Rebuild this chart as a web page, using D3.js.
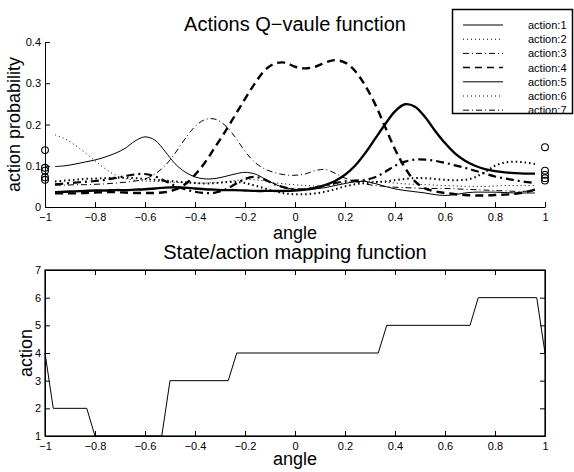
<!DOCTYPE html>
<html>
<head>
<meta charset="utf-8">
<script src="https://cdn.jsdelivr.net/npm/d3@7"></script>
<style>
  body { margin: 0; background: #fff; }
  svg { display: block; font-family: "Liberation Sans", Arial, Helvetica, sans-serif; }
</style>
</head>
<body>
<div id="chart"></div>
<script>
// sampled angles for the Q-value curves
const angles = [-0.96,-0.92,-0.88,-0.84,-0.80,-0.76,-0.72,-0.68,-0.64,-0.60,-0.56,-0.52,-0.48,-0.44,-0.40,-0.36,-0.32,-0.28,-0.24,-0.20,-0.16,-0.12,-0.08,-0.04,0,
  0.04,0.08,0.12,0.16,0.20,0.24,0.28,0.32,0.36,0.40,0.44,0.48,0.52,0.56,0.60,0.64,0.68,0.72,0.76,0.80,0.84,0.88,0.92,0.96];

const action1 = [.098,.100,.104,.109,.114,.121,.130,.142,.160,.170,.162,.135,.105,.085,.073,.068,.069,.074,.080,.084,.080,.068,.055,.047,.043,
  .042,.044,.047,.052,.057,.061,.062,.057,.050,.044,.040,.037,.034,.030,.028,.030,.034,.036,.036,.036,.035,.034,.034,.034];
const action2 = [.175,.165,.150,.132,.112,.093,.078,.069,.065,.063,.062,.061,.060,.059,.058,.058,.059,.061,.064,.066,.066,.063,.059,.056,.054,
  .052,.051,.052,.055,.059,.062,.063,.062,.060,.058,.056,.055,.054,.053,.052,.051,.050,.050,.050,.051,.052,.052,.052,.052];
const action3 = [.053,.053,.054,.054,.055,.056,.058,.060,.063,.068,.080,.100,.130,.165,.195,.212,.213,.198,.170,.135,.108,.092,.083,.078,.077,
  .080,.088,.091,.082,.070,.062,.056,.052,.050,.048,.047,.046,.045,.045,.045,.044,.043,.042,.041,.040,.039,.038,.038,.038];
const action4 = [.033,.033,.033,.034,.035,.036,.036,.035,.034,.034,.034,.036,.042,.055,.078,.108,.145,.182,.222,.262,.300,.332,.348,.350,.340,
  .336,.340,.350,.356,.350,.330,.295,.250,.195,.140,.095,.062,.045,.038,.034,.031,.029,.028,.028,.029,.030,.032,.036,.042];
const action5 = [.036,.037,.038,.039,.040,.040,.041,.041,.042,.043,.045,.047,.048,.047,.045,.043,.042,.041,.041,.040,.039,.039,.039,.039,.040,
  .042,.046,.053,.063,.078,.100,.130,.165,.200,.232,.249,.243,.218,.185,.155,.130,.112,.100,.092,.087,.084,.082,.081,.081];
const action6 = [.062,.064,.066,.068,.069,.070,.071,.071,.070,.068,.066,.064,.062,.060,.058,.057,.058,.060,.061,.058,.052,.045,.038,.033,.031,
  .031,.033,.037,.043,.050,.055,.058,.060,.062,.065,.068,.070,.070,.068,.066,.065,.066,.072,.085,.100,.108,.110,.108,.104];
const action7 = [.055,.057,.059,.061,.063,.066,.070,.075,.079,.080,.074,.063,.052,.043,.037,.034,.035,.042,.055,.068,.073,.066,.055,.047,.043,
  .043,.047,.052,.058,.062,.064,.066,.072,.085,.100,.110,.115,.115,.112,.107,.101,.095,.088,.081,.074,.069,.065,.061,.058];

const actionNames = ["action:1","action:2","action:3","action:4","action:5","action:6","action:7"];
const actionValues = [action1, action2, action3, action4, action5, action6, action7];

// the single points at the two ends
const endLeft = [0.138, 0.095, 0.088, 0.072, 0.066];
const endRight = [0.145, 0.088, 0.078, 0.070, 0.064];

// state/action mapping (breakpoints)
const stateAngles = [-1, -0.967, -0.833, -0.8, -0.533, -0.5, -0.267, -0.233, 0.333, 0.367, 0.7, 0.733, 0.967, 1];
const stateActions = [4, 2, 2, 1, 1, 3, 3, 4, 4, 5, 5, 6, 6, 4];

const xTicks = [-1,-0.8,-0.6,-0.4,-0.2,0,0.2,0.4,0.6,0.8,1];
const qTicks = [0,0.1,0.2,0.3,0.4];
const actTicks = [1,2,3,4,5,6,7];

// styles per action
const styles = [
  { w: 1, dash: null },
  { w: 1, dash: "1,3" },
  { w: 1, dash: "6,3,1,3" },
  { w: 2.4, dash: "8,5" },
  { w: 2.4, dash: null },
  { w: 2, dash: "1.5,3" },
  { w: 2.2, dash: "8,4,2,4" }
];

const width = 574, height = 472;
const svg = d3.select("#chart").append("svg")
  .attr("width", width).attr("height", height);

const fmt = d => d === 0 ? "0" : String(d).replace("-", "\u2212");

const x = d3.scaleLinear().domain([-1, 1]).range([45, 545]);

// ---------- top plot ----------
const yQ = d3.scaleLinear().domain([0, 0.4]).range([207, 42]);

const topG = svg.append("g");

const line = d3.line()
  .x((d, i) => x(angles[i]))
  .y(d => yQ(d))
  .curve(d3.curveCatmullRom.alpha(0.5));

actionValues.forEach((vals, k) => {
  topG.append("path")
    .datum(vals)
    .attr("fill", "none")
    .attr("stroke", "#000")
    .attr("stroke-width", styles[k].w)
    .attr("stroke-dasharray", styles[k].dash)
    .attr("d", line);
});

topG.selectAll("circle.l").data(endLeft).enter().append("circle")
  .attr("cx", x(-1)).attr("cy", d => yQ(d)).attr("r", 3.4)
  .attr("fill", "none").attr("stroke", "#000").attr("stroke-width", 1.1);
topG.selectAll("circle.r").data(endRight).enter().append("circle")
  .attr("cx", x(1)).attr("cy", d => yQ(d)).attr("r", 3.4)
  .attr("fill", "none").attr("stroke", "#000").attr("stroke-width", 1.1);

topG.append("g")
  .attr("transform", "translate(0,207)")
  .call(d3.axisBottom(x).tickValues(xTicks).tickFormat(fmt).tickSizeInner(-5).tickSizeOuter(0).tickPadding(6))
  .call(g => g.selectAll("text").attr("font-size", 11).attr("font-family", "Liberation Sans, Arial, sans-serif"));
topG.append("g")
  .attr("transform", "translate(45,0)")
  .call(d3.axisLeft(yQ).tickValues(qTicks).tickFormat(fmt).tickSizeInner(-5).tickSizeOuter(0).tickPadding(4))
  .call(g => g.selectAll("text").attr("font-size", 11).attr("font-family", "Liberation Sans, Arial, sans-serif"));

topG.append("text").attr("x", 295).attr("y", 31).attr("text-anchor", "middle")
  .attr("font-size", 20).text("Actions Q\u2212vaule function");
topG.append("text").attr("x", 295).attr("y", 239).attr("text-anchor", "middle")
  .attr("font-size", 18).text("angle");
topG.append("text").attr("transform", "translate(19.5,124.5) rotate(-90)").attr("text-anchor", "middle")
  .attr("font-size", 18).text("action probability");

// legend
const legend = svg.append("g");
legend.append("rect").attr("x", 452.5).attr("y", 9.5).attr("width", 120).attr("height", 104)
  .attr("fill", "#fff").attr("stroke", "#000").attr("stroke-width", 1.5);
actionNames.forEach((name, k) => {
  const ly = 25 + k * 14.2;
  legend.append("line").attr("x1", 463).attr("x2", 503).attr("y1", ly).attr("y2", ly)
    .attr("stroke", "#000")
    .attr("stroke-width", k === 3 ? 1.5 : 1)
    .attr("stroke-dasharray", k === 3 ? "7,5" : styles[k].dash ? (k === 2 || k === 6 ? "6,3,1,3" : "1,3") : null);
  legend.append("text").attr("x", 528).attr("y", ly + 4).attr("font-size", 11).text(name);
});

// ---------- bottom plot ----------
const yA = d3.scaleLinear().domain([1, 7]).range([436, 270]);
const bot = svg.append("g");

bot.append("rect").attr("x", 45).attr("y", 270).attr("width", 500).attr("height", 166)
  .attr("fill", "none").attr("stroke", "#000").attr("stroke-width", 1.2);

bot.append("path")
  .datum(stateActions)
  .attr("fill", "none").attr("stroke", "#000").attr("stroke-width", 1)
  .attr("d", d3.line().x((d, i) => x(stateAngles[i])).y(d => yA(d)));

bot.append("g").attr("transform", "translate(0,436)")
  .call(d3.axisBottom(x).tickValues(xTicks).tickFormat(fmt).tickSizeInner(-5).tickSizeOuter(0).tickPadding(6))
  .call(g => g.selectAll("text").attr("font-size", 11).attr("font-family", "Liberation Sans, Arial, sans-serif"));
bot.append("g").attr("transform", "translate(0,270)")
  .call(d3.axisTop(x).tickValues(xTicks).tickFormat("").tickSizeInner(-5).tickSizeOuter(0));
bot.append("g").attr("transform", "translate(45,0)")
  .call(d3.axisLeft(yA).tickValues(actTicks).tickFormat(fmt).tickSizeInner(-5).tickSizeOuter(0).tickPadding(4))
  .call(g => g.selectAll("text").attr("font-size", 11).attr("font-family", "Liberation Sans, Arial, sans-serif"));
bot.append("g").attr("transform", "translate(545,0)")
  .call(d3.axisRight(yA).tickValues(actTicks).tickFormat("").tickSizeInner(-5).tickSizeOuter(0));

bot.append("text").attr("x", 295).attr("y", 259).attr("text-anchor", "middle")
  .attr("font-size", 20).text("State/action mapping function");
bot.append("text").attr("x", 295).attr("y", 465).attr("text-anchor", "middle")
  .attr("font-size", 18).text("angle");
bot.append("text").attr("transform", "translate(32,353) rotate(-90)").attr("text-anchor", "middle")
  .attr("font-size", 18).text("action");
</script>
</body>
</html>
